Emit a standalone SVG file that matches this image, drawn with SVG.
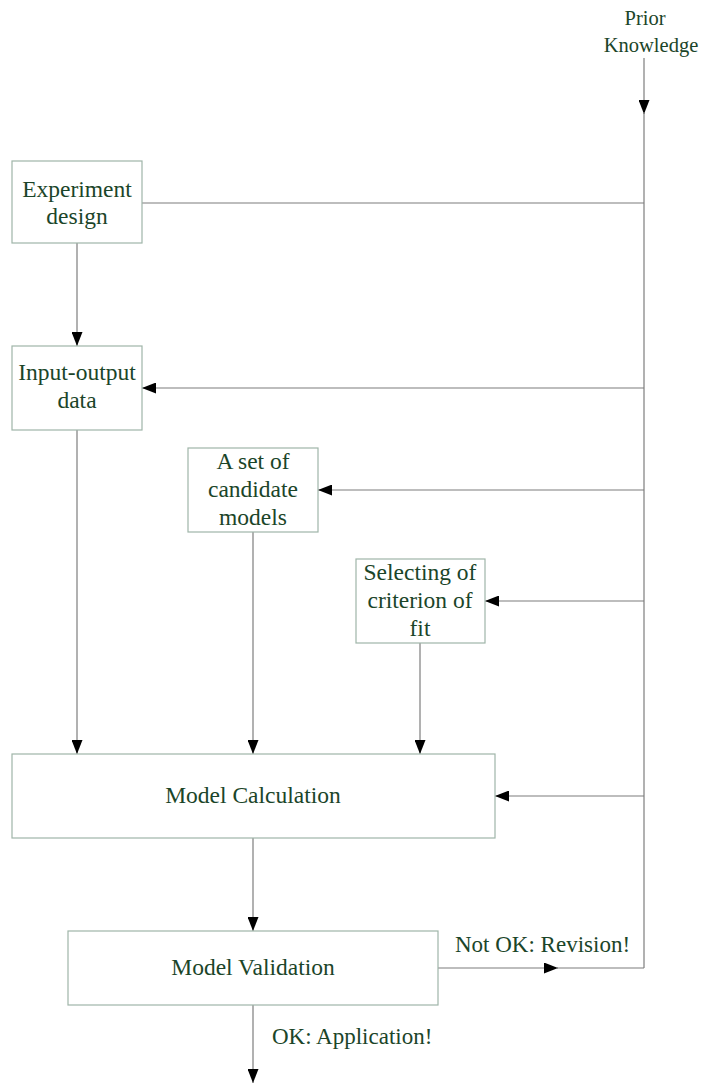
<svg xmlns="http://www.w3.org/2000/svg" width="701" height="1084" viewBox="0 0 701 1084">
<style>
.box{fill:#ffffff;stroke:#9fb5a8;stroke-width:1.2}
.t{font-family:"Liberation Serif","Times New Roman",serif;font-size:23.5px;fill:#1b4529;text-anchor:middle}
.tp{font-family:"Liberation Serif","Times New Roman",serif;font-size:20.5px;fill:#1b4529;text-anchor:middle}
.tl{font-family:"Liberation Serif","Times New Roman",serif;font-size:23px;fill:#1b4529}
.c{stroke:#7d7d7d;stroke-width:1.2;fill:none}
</style>
<defs>
<marker id="ah" markerWidth="14" markerHeight="11" refX="14" refY="5.5" orient="auto" markerUnits="userSpaceOnUse">
<path d="M0,0 L14,5.5 L0,11 Z" fill="#000"/>
</marker>
</defs>
<rect width="701" height="1084" fill="#fff"/>
<g id="connectors">
<line class="c" x1="644" y1="58" x2="644" y2="114" marker-end="url(#ah)"/>
<line class="c" x1="644" y1="112" x2="644" y2="968"/>
<line class="c" x1="142" y1="203" x2="644" y2="203"/>
<line class="c" x1="77" y1="243" x2="77" y2="346" marker-end="url(#ah)"/>
<line class="c" x1="644" y1="388" x2="142" y2="388" marker-end="url(#ah)"/>
<line class="c" x1="644" y1="490" x2="318" y2="490" marker-end="url(#ah)"/>
<line class="c" x1="644" y1="601" x2="485" y2="601" marker-end="url(#ah)"/>
<line class="c" x1="644" y1="796" x2="495" y2="796" marker-end="url(#ah)"/>
<line class="c" x1="77" y1="430" x2="77" y2="754" marker-end="url(#ah)"/>
<line class="c" x1="253" y1="532" x2="253" y2="754" marker-end="url(#ah)"/>
<line class="c" x1="420" y1="643" x2="420" y2="754" marker-end="url(#ah)"/>
<line class="c" x1="253" y1="838" x2="253" y2="931" marker-end="url(#ah)"/>
<line class="c" x1="438" y1="968" x2="558" y2="968" marker-end="url(#ah)"/>
<line class="c" x1="556" y1="968" x2="644" y2="968"/>
<line class="c" x1="253" y1="1005" x2="253" y2="1083" marker-end="url(#ah)"/>
<text class="tl" x="455" y="952">Not OK: Revision!</text>
<text class="tl" x="272" y="1044">OK: Application!</text>
</g>
<g id="prior">
<text class="tp" x="645" y="25">Prior</text>
<text class="tp" x="651" y="52">Knowledge</text>
</g>
<g id="experiment">
<rect class="box" x="12" y="161" width="130" height="82"/>
<text class="t" x="77" y="197">Experiment</text>
<text class="t" x="77" y="224">design</text>
</g>
<g id="inputoutput">
<rect class="box" x="12" y="346" width="130" height="84"/>
<text class="t" x="77" y="380">Input-output</text>
<text class="t" x="77" y="408">data</text>
</g>
<g id="candidates">
<rect class="box" x="188" y="448" width="130" height="84"/>
<text class="t" x="253" y="469">A set of</text>
<text class="t" x="253" y="497">candidate</text>
<text class="t" x="253" y="525">models</text>
</g>
<g id="criterion">
<rect class="box" x="356" y="559" width="129" height="84"/>
<text class="t" x="420" y="580">Selecting of</text>
<text class="t" x="420" y="608">criterion of</text>
<text class="t" x="420" y="636">fit</text>
</g>
<g id="calculation">
<rect class="box" x="12" y="754" width="483" height="84"/>
<text class="t" x="253" y="803">Model Calculation</text>
</g>
<g id="validation">
<rect class="box" x="68" y="931" width="370" height="74"/>
<text class="t" x="253" y="975">Model Validation</text>
</g>
</svg>
